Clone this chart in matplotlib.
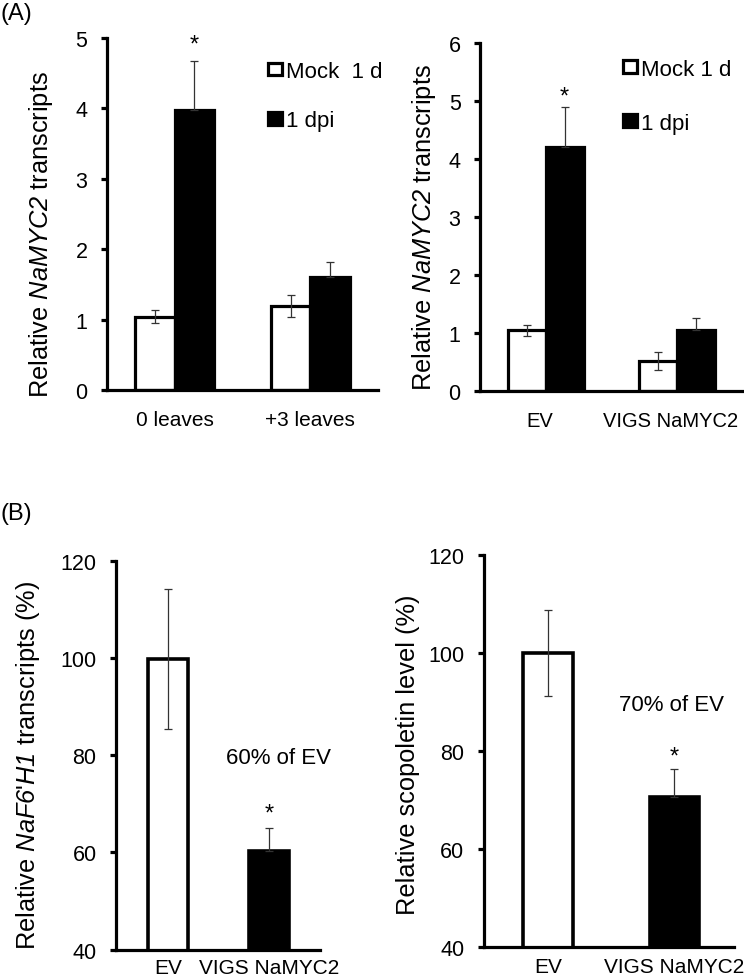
import matplotlib
matplotlib.use('Agg')
import matplotlib.pyplot as plt
import matplotlib.transforms as mtransforms
from matplotlib.patches import Patch
import numpy as np

plt.rcParams['font.family'] = ['Liberation Sans', 'DejaVu Sans']
plt.rcParams['mathtext.fontset'] = 'custom'
plt.rcParams['mathtext.rm'] = 'Liberation Sans'
plt.rcParams['mathtext.it'] = 'Liberation Sans:italic'
plt.rcParams['mathtext.bf'] = 'Liberation Sans:italic'

# ---------------- data ----------------
# Panel A left
a1_categories = ['0 leaves', '+3 leaves']
a1_mock = [1.04, 1.19]
a1_mock_err = [0.09, 0.155]
a1_dpi = [3.98, 1.61]
a1_dpi_err = [0.69, 0.21]
a1_star_y = [4.82, None]

# Panel A right
a2_categories = ['EV', 'VIGS NaMYC2']
a2_mock = [1.04, 0.51]
a2_mock_err = [0.09, 0.15]
a2_dpi = [4.21, 1.04]
a2_dpi_err = [0.68, 0.22]
a2_star_y = [4.97, None]

series_labels_a1 = ['Mock  1 d', '1 dpi']
series_labels_a2 = ['Mock 1 d', '1 dpi']

# Panel B left
b1_categories = ['EV', 'VIGS NaMYC2']
b1_values = [99.8, 60.4]
b1_err = [14.4, 4.6]
b1_star_y = [None, 66.8]
b1_note = '60% of EV'
b1_note_pos = (1.09, 79.6)

# Panel B right
b2_categories = ['EV', 'VIGS NaMYC2']
b2_values = [100.0, 70.7]
b2_err = [8.8, 5.7]
b2_star_y = [None, 77.7]
b2_note = '70% of EV'
b2_note_pos = (0.98, 89.6)

LW = 2.3
ECOL = '#333333'


def style_axis(ax, ylim, yticks, xpad):
    for s in ['top', 'right']:
        ax.spines[s].set_visible(False)
    for s in ['left', 'bottom']:
        ax.spines[s].set_linewidth(LW)
    ax.set_ylim(*ylim)
    ax.set_yticks(yticks)
    ax.tick_params(axis='y', direction='out', length=4.5, width=LW,
                   labelsize=15.5, pad=9.5)
    ax.tick_params(axis='x', length=0, labelsize=15, pad=xpad)


def grouped(ax, cats, mock, mock_err, dpi, dpi_err, star_y, w, labels,
            leg_anchor, leg_spacing):
    x = np.arange(len(cats))
    ax.bar(x - w / 2, mock, w, color='white', edgecolor='black',
           linewidth=LW, zorder=2)
    ax.bar(x + w / 2, dpi, w, color='black', edgecolor='black',
           linewidth=LW, zorder=2)
    ax.errorbar(x - w / 2, mock, yerr=mock_err, fmt='none', ecolor=ECOL,
                elinewidth=0.9, capsize=3, capthick=0.9, zorder=3)
    ax.errorbar(x + w / 2, dpi, yerr=[np.zeros(len(dpi)), dpi_err],
                fmt='none', ecolor=ECOL, elinewidth=0.9, capsize=3,
                capthick=0.9, zorder=3)
    for xi, sy in zip(x, star_y):
        if sy is not None:
            ax.text(xi + w / 2, sy, '*', ha='center', va='baseline',
                    fontsize=17)
    ax.set_xticks(x)
    ax.set_xticklabels(cats)
    ax.set_xlim(-0.5, 1.5)
    handles = [Patch(facecolor='white', edgecolor='black', linewidth=LW,
                     label=labels[0]),
               Patch(facecolor='black', edgecolor='black', linewidth=LW,
                     label=labels[1])]
    ax.legend(handles=handles, loc='upper left', bbox_to_anchor=leg_anchor,
              frameon=False, fontsize=16, handlelength=0.62,
              handleheight=0.5, handletextpad=0.2, labelspacing=leg_spacing,
              borderpad=0, borderaxespad=0)


def single(ax, cats, vals, err, star_y, w, note, note_pos, xlim):
    x = np.arange(len(cats))
    ax.bar(x, vals, w, color=['white', 'black'], edgecolor='black',
           linewidth=2.6, zorder=2)
    ax.errorbar(x[:1], vals[:1], yerr=err[:1], fmt='none', ecolor=ECOL,
                elinewidth=0.9, capsize=3, capthick=0.9, zorder=3)
    ax.errorbar(x[1:], vals[1:], yerr=[[0], err[1:]], fmt='none',
                ecolor=ECOL, elinewidth=0.9, capsize=3, capthick=0.9,
                zorder=3)
    for xi, sy in zip(x, star_y):
        if sy is not None:
            ax.text(xi, sy, '*', ha='center', va='baseline', fontsize=17)
    ax.text(note_pos[0], note_pos[1], note, ha='center', va='center',
            fontsize=16)
    ax.set_xticks(x)
    ax.set_xticklabels(cats)
    ax.set_xlim(*xlim)


fig = plt.figure(figsize=(7.44, 9.78), dpi=100)

ax1 = fig.add_axes([0.1438, 0.6002, 0.3642, 0.3599])
grouped(ax1, a1_categories, a1_mock, a1_mock_err, a1_dpi, a1_dpi_err,
        a1_star_y, 0.29, series_labels_a1, (0.594, 0.935), 1.27)
style_axis(ax1, (0, 5), range(0, 6), 14.5)
ax1.set_ylabel(r'Relative $\mathbf{NaMYC2}$ transcripts', fontsize=18.3)
ax1.yaxis.set_label_coords(-0.192, 0.443)

ax2 = fig.add_axes([0.6452, 0.5995, 0.3522, 0.3555])
grouped(ax2, a2_categories, a2_mock, a2_mock_err, a2_dpi, a2_dpi_err,
        a2_star_y, 0.29, series_labels_a2, (0.545, 0.955), 1.48)
style_axis(ax2, (0, 6), range(0, 7), 14.5)
ax2.set_ylabel(r'Relative $\mathbf{NaMYC2}$ transcripts', fontsize=18.3)
ax2.yaxis.set_label_coords(-0.161, 0.471)
shift = mtransforms.ScaledTranslation(-6 / 100, 0, fig.dpi_scale_trans)
for lab in ax2.get_xticklabels():
    lab.set_fontsize(14.5)
    lab.set_transform(lab.get_transform() + shift)

ax3 = fig.add_axes([0.1559, 0.0279, 0.2742, 0.3978])
single(ax3, b1_categories, b1_values, b1_err, b1_star_y, 0.40, b1_note,
       b1_note_pos, (-0.515, 1.505))
style_axis(ax3, (40, 120), range(40, 121, 20), 6.0)
ax3.set_ylabel(r"Relative $\mathbf{NaF6}$'$\mathbf{H1}$ transcripts (%)",
               fontsize=18.3)
ax3.yaxis.set_label_coords(-0.364, 0.476)

ax4 = fig.add_axes([0.6501, 0.0303, 0.3360, 0.4011])
single(ax4, b2_categories, b2_values, b2_err, b2_star_y, 0.39, b2_note,
       b2_note_pos, (-0.51, 1.47))
style_axis(ax4, (40, 120), range(40, 121, 20), 7.0)
ax4.set_ylabel('Relative scopoletin level (%)', fontsize=18.3)
ax4.yaxis.set_label_coords(-0.254, 0.493)

fig.text(0.0, 1 - 14 / 978, '(A)', ha='left', va='center', fontsize=17)
fig.text(0.0, 1 - 514 / 978, '(B)', ha='left', va='center', fontsize=17)

fig.savefig('out.png', dpi=100)
